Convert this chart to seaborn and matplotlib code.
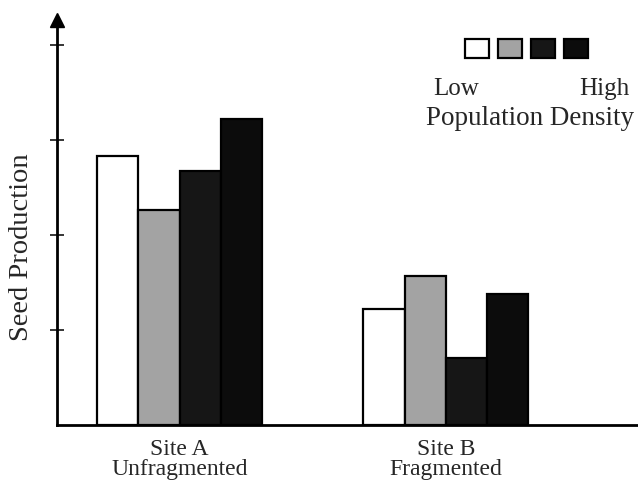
import numpy as np
import pandas as pd
import matplotlib
matplotlib.use("Agg")
import matplotlib.pyplot as plt
from matplotlib.patches import Patch
import seaborn as sns

# values (axis units = tick spacing)
sites = ["Site A\nUnfragmented", "Site B\nFragmented"]
densities = ["d1", "d2", "d3", "d4"]
site_a = [2.83, 2.26, 2.67, 3.22]
site_b = [1.22, 1.57, 0.71, 1.38]
bar_colors = ["#ffffff", "#a3a3a3", "#161616", "#0c0c0c"]

df = pd.DataFrame({
    "site": np.repeat(sites, len(densities)),
    "density": densities * len(sites),
    "seed": site_a + site_b,
})

sns.set_style("white")
plt.rcParams["font.family"] = ["Liberation Serif", "DejaVu Serif"]

fig = plt.figure(figsize=(6.38, 4.88), dpi=100)
ax = fig.add_axes([0.089, 0.129, 0.911, 0.83])

sns.barplot(data=df, x="site", y="seed", hue="density", order=sites,
            hue_order=densities, palette=bar_colors, width=0.62,
            edgecolor="black", linewidth=1.6, saturation=1, ax=ax)

ax.set_xlim(-0.462, 1.722)
ax.set_ylim(0, 4.26)
ax.set_yticks([1, 2, 3, 4])
ax.set_yticklabels([])
ax.tick_params(axis="y", direction="inout", length=10, width=1.3, left=True)
ax.tick_params(axis="x", length=0, labelsize=17, pad=10)
for lbl in ax.get_xticklabels():
    lbl.set_linespacing(0.95)
ax.set_xlabel("")
ax.set_ylabel("Seed Production", fontsize=20.5)
ax.yaxis.set_label_coords(-0.04, 0.44)

for side in ["top", "right"]:
    ax.spines[side].set_visible(False)
for side in ["left", "bottom"]:
    ax.spines[side].set_linewidth(2)
    ax.spines[side].set_color("black")

# arrow head on the y axis
ax.plot(0, 1, marker="^", color="black", markersize=10,
        transform=ax.transAxes, clip_on=False)

handles = [Patch(facecolor=c, edgecolor="black", linewidth=1.6) for c in bar_colors]
ax.legend(handles, [""] * 4, ncol=4, frameon=False, handlelength=1.75,
          handleheight=1.75, handletextpad=0, columnspacing=0.62,
          borderpad=0, borderaxespad=0, loc="upper left",
          bbox_to_anchor=(0.729, 0.92), bbox_transform=fig.transFigure)

fig.text(0.715, 0.818, "Low", fontsize=18, va="center", ha="center")
fig.text(0.948, 0.818, "High", fontsize=18, va="center", ha="center")
fig.text(0.831, 0.757, "Population Density", fontsize=19.5, va="center", ha="center")

fig.savefig("out.png", dpi=100)
